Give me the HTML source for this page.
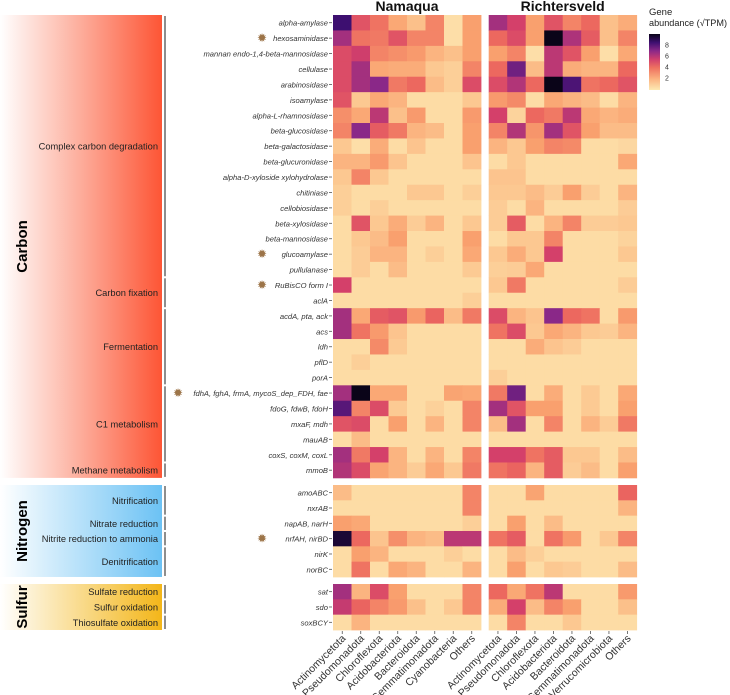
<!DOCTYPE html>
<html><head><meta charset="utf-8">
<style>
html,body{margin:0;padding:0;background:#fff;width:730px;height:695px;overflow:hidden}
svg{display:block;font-family:"Liberation Sans",sans-serif}
</style></head>
<body>
<svg id="chart" width="730" height="695" viewBox="0 0 730 695">
<defs>
<linearGradient id="gC" x1="0" x2="1" y1="0" y2="0"><stop offset="0" stop-color="#fff"/><stop offset="0.45" stop-color="#fdb5a5"/><stop offset="1" stop-color="#fd5535"/></linearGradient>
<linearGradient id="gN" x1="0" x2="1" y1="0" y2="0"><stop offset="0" stop-color="#fff"/><stop offset="1" stop-color="#6cc2f4"/></linearGradient>
<linearGradient id="gS" x1="0" x2="1" y1="0" y2="0"><stop offset="0" stop-color="#fff"/><stop offset="1" stop-color="#f3b619"/></linearGradient>
<linearGradient id="gL" x1="0" x2="0" y1="1" y2="0"><stop offset="0" stop-color="#fde9b3"/><stop offset="0.2" stop-color="#fbb280"/><stop offset="0.4" stop-color="#ee7060"/><stop offset="0.55" stop-color="#cf3f6e"/><stop offset="0.7" stop-color="#8a2888"/><stop offset="0.85" stop-color="#3d0f70"/><stop offset="1" stop-color="#0a0418"/></linearGradient>
</defs>
<g id="layer"></g>
</svg>
<script>
const genes = ["alpha-amylase","hexosaminidase","mannan endo-1,4-beta-mannosidase","cellulase","arabinosidase","isoamylase","alpha-L-rhamnosidase","beta-glucosidase","beta-galactosidase","beta-glucuronidase","alpha-D-xyloside xylohydrolase","chitiniase","cellobiosidase","beta-xylosidase","beta-mannosidase","glucoamylase","pullulanase","RuBisCO form I","aclA","acdA, pta, ack","acs","ldh","pflD","porA","fdhA, fghA, frmA, mycoS_dep_FDH, fae","fdoG, fdwB, fdoH","mxaF, mdh","mauAB","coxS, coxM, coxL","mmoB","amoABC","nxrAB","napAB, narH","nrfAH, nirBD","nirK","norBC","sat","sdo","soxBCY"];
const namaquaTaxa = ["Actinomycetota","Pseudomonadota","Chloroflexota","Acidobacteriota","Bacteroidota","Gemmatimonadota","Cyanobacteria","Others"];
const richTaxa = ["Actinomycetota","Pseudomonadota","Chloroflexota","Acidobacteriota","Bacteroidota","Gemmatimonadota","Verrucomicrobiota","Others"];
const namaquaValues = [
[7.5,4,3.3,2.3,1.7,3,0.5,2.5],[5.5,3.3,3.2,4,3,3,0.5,2.5],[4.2,4.6,3,2.8,2.6,2,1.7,2.5],[4.2,5.5,2.3,2.2,2.2,1.5,1.2,3],[4.2,5.5,6,3.2,3.5,1.8,1.2,4.2],
[4,1.5,2.3,2,0.6,0.6,0.6,1.5],[2.8,2.3,5,1.7,2.6,0.6,0.6,2.6],[3,6,3.8,3.2,2,1.8,0.6,2.5],[1.5,0.5,2.2,0.6,1.6,0.6,0.6,2.5],[2,2,2.6,1.6,0.6,0.6,0.6,1.6],
[1.5,3,1.5,0.6,0.6,0.6,0.6,0.6],[1.2,0.6,0.6,0.6,1.5,1.5,0.6,1.2],[1.2,0.6,1.2,0.6,0.6,0.6,0.6,0.6],[0.6,4,1.5,2.2,1.3,2,0.6,1.5],[0.6,1.5,1.8,2.5,0.6,0.6,0.6,2.5],
[0.6,1.3,2,2,0.6,1.2,0.6,2.3],[0.6,1.3,0.6,1.8,0.6,0.6,0.6,1.4],[4.5,0.6,0.6,0.6,0.6,0.6,0.6,0.6],[0.6,0.6,0.6,0.6,0.6,0.6,0.6,1.2],[5.5,2.3,3.8,4,2.6,3.6,1.8,3.2],
[5.5,3.3,2.6,1.6,0.6,0.6,0.6,0.6],[0.6,0.6,2.9,1.4,0.6,0.6,0.6,0.6],[0.6,1.2,0.6,0.6,0.6,0.6,0.6,0.6],[0.6,0.6,0.6,0.6,0.6,0.6,0.6,0.6],[5.5,9,2.3,2.3,0.6,0.6,2.4,2.3],
[7,3,4.2,1.4,0.6,1.1,0.6,3],[4,4.2,0.6,2.5,0.6,2,0.6,3],[0.6,1.8,0.6,0.6,0.6,0.6,0.6,0.6],[5.5,3.2,4.5,2,0.6,2,0.6,3],[5.2,4.2,2.4,2,1.3,2.3,1.5,3.2],
[1.8,0.6,0.6,0.6,0.6,0.6,0.6,3],[0.6,0.6,0.6,0.6,0.6,0.6,0.6,3],[2.5,2.3,0.6,0.6,0.6,0.6,0.6,1.2],[8.5,3.5,1.6,2.8,2,1.8,5,5],[0.6,2.5,2,0.6,0.6,0.6,1.2,0.6],[0.6,3.3,0.6,2.3,2,0.6,0.6,2],
[5.5,2,4.2,2.5,0.6,0.6,0.6,3],[4.8,3.6,3,2.6,1.7,0.6,1.5,3],[0.6,2,0.6,0.6,0.6,0.6,0.6,0.6]];
const richValues = [
[5.5,4.5,2.5,4,3,3.5,1.7,2.2],[3.5,4.2,2.5,9,5.3,3.8,1.7,3],[2.5,3,0.5,5,4,2.5,0.5,2.3],[3.5,6.5,1.8,5,2.2,2,2,3.5],[4.2,5.2,3.5,9,7.2,3.3,3.5,4],
[2.6,2.9,0.6,2.3,2,1.8,0.6,2],[4.5,1,3.5,3.2,5,2.3,2,2.2],[3,5.2,2.7,5.5,4,2.5,1.8,1.8],[2,1.5,2.5,3,2.9,0.6,0.6,0.8],[0.6,1.5,0.6,0.6,0.6,0.6,0.6,2.3],
[1.6,1.6,0.6,0.6,0.6,0.6,0.6,0.6],[1.5,1.5,1.8,1.3,2.5,1.3,0.6,2],[1.3,0.6,2,0.6,0.6,0.6,0.6,1.3],[1.3,3.8,0.6,2,3,1.3,1.3,1.5],[0.6,1.5,1.5,3,0.6,0.6,0.6,1],
[1.5,2.2,1.5,4.5,0.6,0.6,0.6,1.5],[1.2,1.3,2.3,0.6,0.6,0.6,0.6,0.6],[1.5,3.2,0.6,0.6,0.6,0.6,0.6,1.3],[0.6,0.6,0.6,0.6,0.6,0.6,0.6,0.6],[4.2,2,1.6,6,3.5,3.3,0.6,2.6],
[3.3,4.2,1.5,2.3,2,1.5,1.3,2],[0.6,0.6,2.2,1.6,1.3,0.6,0.6,0.6],[0.6,0.6,0.6,0.6,0.6,0.6,0.6,0.6],[1.2,0.6,0.6,0.6,0.6,0.6,0.6,0.6],[3.2,6.5,0.6,2.2,0.6,1.4,0.6,2.3],
[5.5,4,2.5,2.5,0.6,1.4,0.6,2.5],[1.8,5.5,0.6,3,0.6,2,1.3,3.2],[0.6,0.6,0.6,0.6,0.6,0.6,0.6,0.6],[4.5,4.5,3.3,3.8,1.5,1.5,0.6,1.8],[3.3,3.6,2,3.8,1.3,1.8,0.6,2.5],
[0.6,0.6,2.4,0.6,0.6,0.6,0.6,3.6],[0.6,0.6,0.6,0.6,0.6,0.6,0.6,2],[0.6,2.5,0.6,1.8,0.6,0.6,0.6,0.6],[3.3,3.8,0.6,3.3,2.6,0.6,1.5,3],[0.6,1.8,1.2,0.6,0.6,0.6,0.6,0.6],[0.6,2.5,0.6,1.5,1.3,0.6,0.6,1.8],
[3.5,2.3,3.3,5,0.6,0.6,0.6,2.6],[2.2,4.5,1.8,3,2.5,0.6,0.6,1.7],[0.6,3,0.6,0.6,1.5,0.6,0.6,0.6]];
const legendTicks = [2,4,6,8];
const starred = [1,15,17,24,33];
const groups = [{name:"Carbon",start:0,n:30,top:15,h:15.43,fill:"url(#gC)"},{name:"Nitrogen",start:30,n:6,top:485,h:15.33,fill:"url(#gN)"},{name:"Sulfur",start:36,n:3,top:584,h:15.33,fill:"url(#gS)"}];
const subgroups = [["Complex carbon degradation",0,16],["Carbon fixation",17,18],["Fermentation",19,23],["C1 metabolism",24,28],["Methane metabolism",29,29],["Nitrification",30,31],["Nitrate reduction",32,32],["Nitrite reduction to ammonia",33,33],["Denitrification",34,35],["Sulfate reduction",36,36],["Sulfur oxidation",37,37],["Thiosulfate oxidation",38,38]];

const NS="http://www.w3.org/2000/svg", L=document.getElementById('layer');
function mk(t,a,txt){const e=document.createElementNS(NS,t);for(const k in a)e.setAttribute(k,a[k]);if(txt!=null)e.textContent=txt;L.appendChild(e);return e;}
const stops=[[0,[253,233,179]],[1.5,[252,200,145]],[2.5,[249,160,110]],[3.5,[236,104,95]],[4.5,[212,64,106]],[6,[138,40,136]],[7.5,[61,15,112]],[9,[10,4,24]]];
function color(v){v=Math.max(0,Math.min(9,v));for(let i=1;i<stops.length;i++){if(v<=stops[i][0]){const a=stops[i-1],b=stops[i],t=(v-a[0])/(b[0]-a[0]);return 'rgb('+a[1].map((c,j)=>Math.round(c+(b[1][j]-c)*t)).join(',')+')';}}return 'rgb(10,4,24)';}
function grpOf(r){return groups.find(g=>r>=g.start&&r<g.start+g.n);}
function yRow(r){const g=grpOf(r);return g.top+(r-g.start)*g.h;}
function hRow(r){return grpOf(r).h;}
const colW=18.5, panelX=[333,488.7];
function xCol(p,c){return panelX[p]+c*colW;}

groups.forEach(g=>{
  const y1=g.top,y2=g.top+g.n*g.h;
  const r=mk('rect',{x:0,y:y1,width:162,height:y2-y1,fill:g.fill});
  
  
  const cy=(y1+y2)/2;
  const t=mk('text',{x:0,y:0,transform:'translate(27,'+cy+') rotate(-90)','text-anchor':'middle','font-size':15,'font-weight':'bold',fill:'#000'},g.name);
  
  
});
subgroups.forEach(s=>{
  const y1=yRow(s[1])+1,y2=yRow(s[2])+hRow(s[2])-1;
  const l=mk('line',{x1:165,x2:165,y1:y1,y2:y2,stroke:'#444','stroke-width':1.2});
  
  
  const t=mk('text',{x:158,y:(y1+y2)/2+3.5,'text-anchor':'end','font-size':9.3,fill:'#222'},s[0]);
  
  
});
genes.forEach((g,r)=>{
  const cy=yRow(r)+hRow(r)/2;
  const t=mk('text',{x:328,y:cy+3,'text-anchor':'end','font-size':7.6,'font-style':'italic',fill:'#333'},g);
  
  
  const k=mk('line',{x1:329,x2:332,y1:cy,y2:cy,stroke:'#555','stroke-width':0.8});
  
  
  if(starred.includes(r)){
    const sx = r===24?178:262;
    const s=mk('text',{x:sx,y:cy+4,'text-anchor':'middle','font-size':12,fill:'#9c7448'},'✹');
    
    
  }
});
[namaquaValues,richValues].forEach((vals,p)=>{
  vals.forEach((row,r)=>{
    row.forEach((v,c)=>{
      const rc=mk('rect',{x:xCol(p,c),y:yRow(r),width:colW+0.4,height:hRow(r)+0.4,fill:color(v)});
      
      
    });
  });
});
[["Namaqua",0],["Richtersveld",1]].forEach(a=>{
  const t=mk('text',{x:xCol(a[1],4),y:11,'text-anchor':'middle','font-size':14,'font-weight':'bold',fill:'#111'},a[0]);
  
  
});
[namaquaTaxa,richTaxa].forEach((taxa,p)=>{
  taxa.forEach((tx,c)=>{
    const cx=xCol(p,c)+colW/2;
    const k=mk('line',{x1:cx,x2:cx,y1:631,y2:634,stroke:'#555','stroke-width':0.8});
    
    
    const t=mk('text',{x:0,y:0,transform:'translate('+(cx+4)+',639) rotate(-45)','text-anchor':'end','font-size':10.5,fill:'#333'},tx);
    
    
  });
});
const lt1=mk('text',{x:649,y:15,'font-size':9.5,fill:'#222'},'Gene');


const lt2=mk('text',{x:649,y:26,'font-size':9.5,fill:'#222',textLength:78,lengthAdjust:'spacingAndGlyphs'},'abundance (√TPM)');


const lb=mk('rect',{x:649,y:34,width:11,height:56,fill:'url(#gL)'});


function yLeg(v){return 89-v*5.5;}
legendTicks.forEach(v=>{
  const t=mk('text',{x:665,y:yLeg(v)+2.5,'font-size':7,fill:'#333'},String(v));
  
  
});
</script>
</body></html>
